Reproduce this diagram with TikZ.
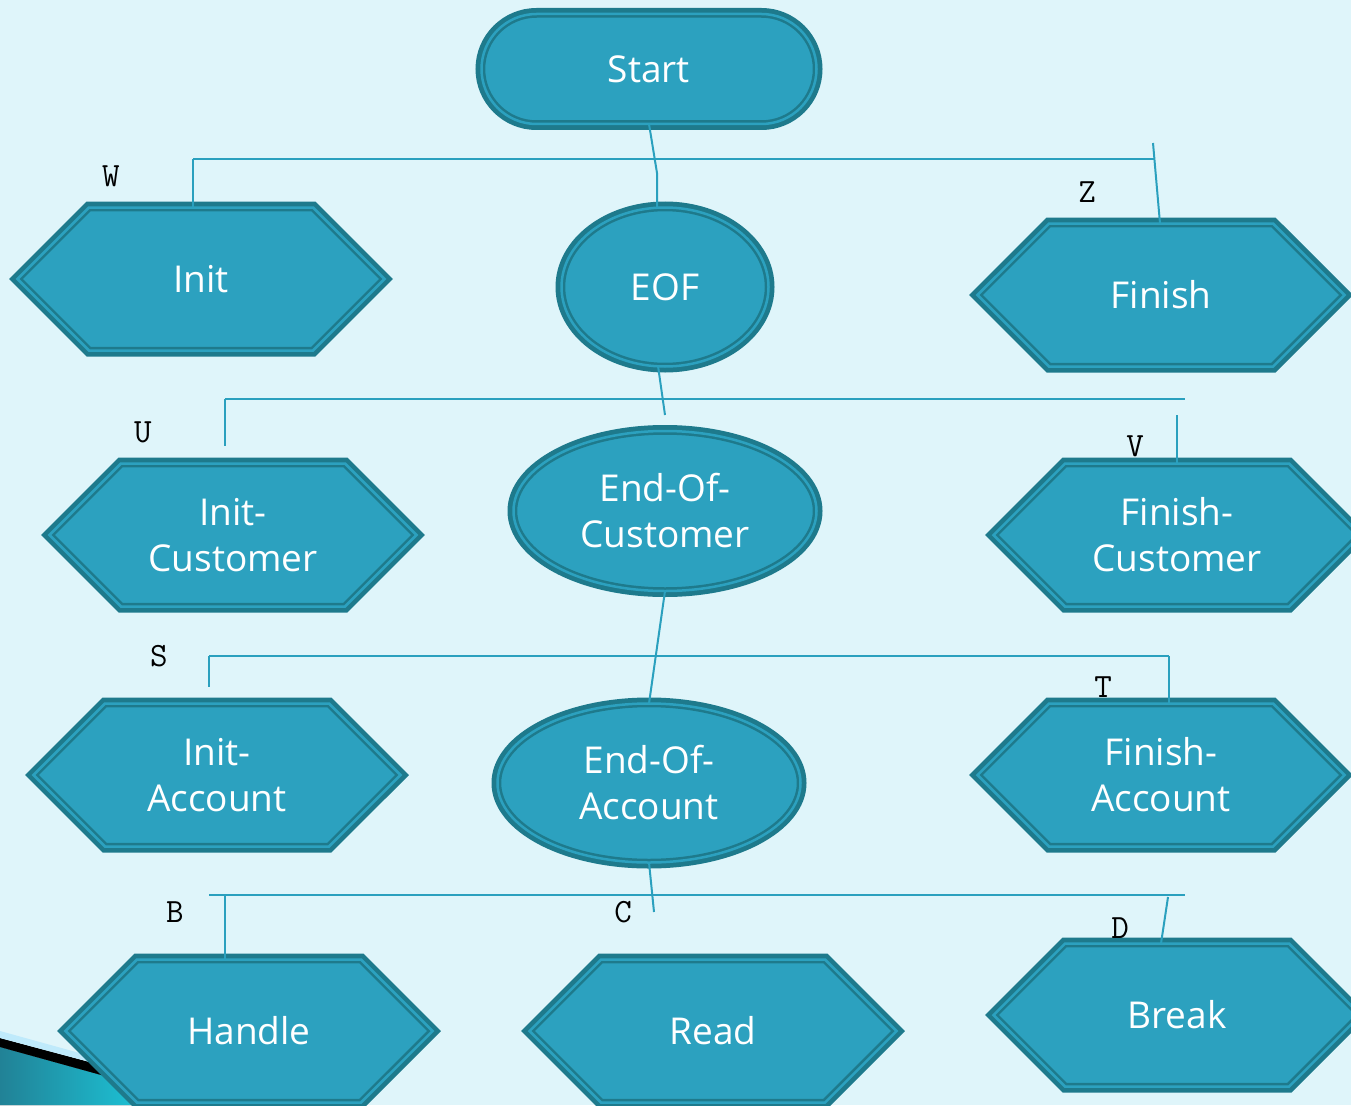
\documentclass[tikz,border=0pt]{standalone}
\usepackage{fontspec}
\setmainfont{Open Sans}
\usetikzlibrary{calc,shapes.symbols,shapes.geometric}
\definecolor{slidebg}{HTML}{DFF5FA}
\definecolor{boxfill}{HTML}{2CA1BF}
\definecolor{boxrim}{HTML}{1E7A8C}
\definecolor{linkcol}{HTML}{2AA0BE}
\tikzset{
    box base/.style={
        fill=boxfill, draw=boxrim, line width=2.5pt,
        double=boxfill, double distance=2.5pt,
        preaction={draw=boxrim, line width=12pt},
        text=white, align=center, inner sep=0pt, outer sep=0pt,
        font=\fontsize{37}{46}\selectfont
    },
    start box/.style={
        box base, rectangle, rounded corners=55pt,
        minimum width=335pt, minimum height=110pt
    },
    hex box/.style={
        box base, signal, signal to=west and east,
        signal pointer angle=90,
        minimum width=367pt, minimum height=143pt
    },
    oval box/.style={box base, ellipse},
    link/.style={draw=linkcol, line width=2pt},
    tag/.style={
        inner sep=0pt, text=black,
        font=\ttfamily\fontsize{34}{34}\selectfont
    }
}

\begin{document}
\begin{tikzpicture}[x=1pt,y=-1pt]
    \useasboundingbox(0,0)rectangle(1351,1105);
    \clip(0,0)rectangle(1351,1105);
    \fill[slidebg](0,0)rectangle(1351,1105);
    % slide ribbon, bottom left
    \fill[left color=boxrim!80!boxfill,right color=cyan!35!boxfill]
        (0,1047)--(112,1078)--(140,1105)--(0,1105)--cycle;
    \fill[black](0,1038)--(112,1068)--(112,1078)--(0,1047)--cycle;
    \fill[cyan!25!white](0,1031)--(112,1062)--(112,1068)--(0,1038)--cycle;

    \node[start box](Start)at(649,69){Start};
    \node[hex box](Init)at(201,279){Init};
    \node[oval box,minimum width=207pt,minimum height=159pt](EOF)at(665,287){EOF};
    \node[hex box](Finish)at(1161,295){Finish};
    \node[hex box](InitCust)at(233,535){Init-\\Customer};
    \node[oval box,minimum width=303pt,minimum height=160pt](EndCust)at(665,511){End-Of-\\Customer};
    \node[hex box](FinCust)at(1177,535){Finish-\\Customer};
    \node[hex box](InitAcc)at(217,775){Init-\\Account};
    \node[oval box,minimum width=303pt,minimum height=159pt](EndAcc)at(649,783){End-Of-\\Account};
    \node[hex box](FinAcc)at(1161,775){Finish-\\Account};
    \node[hex box](Handle)at(249,1031){Handle};
    \node[hex box](Read)at(713,1031){Read};
    \node[hex box](Break)at(1177,1015){Break};

    % first level
    \coordinate(bus1w)at(193,159);
    \coordinate(bus1e)at(1155,159);
    \coordinate(bend1)at(657,173);
    \coordinate(tap1z)at(1153,143);
    \draw[link](bus1w)--(bus1e);
    \draw[link](bus1w)--(bus1w|-Init.north);
    \draw[link](Start.south)--(bend1)--(bend1|-EOF.north);
    \draw[link](tap1z)--($(Finish.north)+(-1,0)$);
    % second level
    \coordinate(bus2w)at(225,399);
    \coordinate(bus2e)at(1185,399);
    \coordinate(tap2u)at(225,446);
    \coordinate(tap2c)at(665,415);
    \coordinate(tap2v)at(1177,415);
    \draw[link](bus2w)--(bus2e);
    \draw[link](bus2w)--(tap2u);
    \draw[link](EOF.265)--(tap2c);
    \draw[link](tap2v)--(tap2v|-FinCust.north);
    % third level
    \coordinate(bus3w)at(209,656);
    \coordinate(bus3e)at(1169,656);
    \coordinate(tap3s)at(209,687);
    \draw[link](bus3w)--(bus3e);
    \draw[link](bus3w)--(tap3s);
    \draw[link](bus3e)--(bus3e|-FinAcc.north);
    \draw[link](EndCust.south)--(EndAcc.north);
    % fourth level
    \coordinate(bus4w)at(209,895);
    \coordinate(bus4e)at(1185,895);
    \coordinate(tap4b)at(225,895);
    \coordinate(tap4c)at(654,912);
    \coordinate(tap4d)at(1168,897);
    \draw[link](bus4w)--(bus4e);
    \draw[link](tap4b)--(tap4b|-Handle.north);
    \draw[link](EndAcc.south)--(tap4c);
    \draw[link](tap4d)--($(Break.north)+(-16,0)$);

    \node[tag](tagW)at(111,176){W};
    \node[tag](tagZ)at(1087,192){Z};
    \node[tag](tagU)at(143,432){U};
    \node[tag](tagV)at(1135,446){V};
    \node[tag](tagS)at(159,656){S};
    \node[tag](tagT)at(1103,687){T};
    \node[tag](tagB)at(175,912){B};
    \node[tag](tagC)at(623,912){C};
    \node[tag](tagD)at(1120,928){D};
\end{tikzpicture}
\end{document}
